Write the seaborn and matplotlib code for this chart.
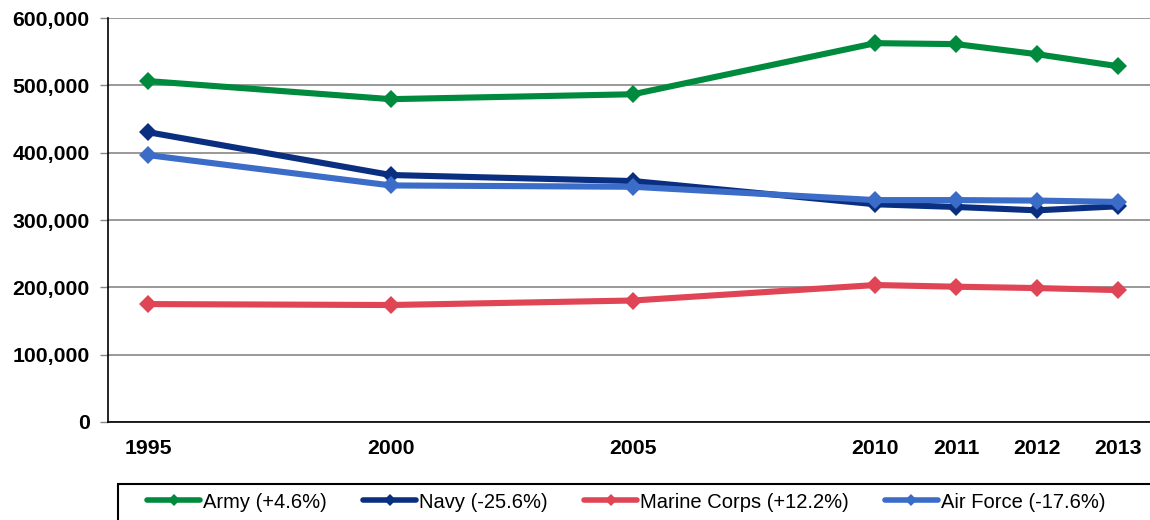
import numpy as np
import pandas as pd
import matplotlib.pyplot as plt
import matplotlib.patches as mpatches
import seaborn as sns

# Data
years = [1995, 2000, 2005, 2010, 2011, 2012, 2013]
army = [506500, 479700, 487000, 562900, 561500, 546500, 528700]
navy = [430500, 367000, 358000, 323500, 319500, 314500, 320500]
marine = [175200, 173800, 180500, 203500, 201000, 199000, 196000]
air_force = [396500, 351500, 349500, 329700, 329700, 329000, 327000]
labels = ['Army (+4.6%)', 'Navy (-25.6%)', 'Marine Corps (+12.2%)', 'Air Force (-17.6%)']
colors = ['#008A3E', '#0B2F80', '#E04555', '#3A6CC8']

df = pd.DataFrame({'year': years * 4,
                   'personnel': army + navy + marine + air_force,
                   'service': np.repeat(labels, len(years))})

sns.set_style('white')
plt.rcParams['font.family'] = ['Liberation Sans', 'DejaVu Sans']
plt.rcParams['text.color'] = 'black'
plt.rcParams['xtick.color'] = 'black'
plt.rcParams['ytick.color'] = 'black'


# the year axis is not linear: 5-year gaps before 2010, yearly steps after
def fwd(y):
    y = np.asarray(y, dtype=float)
    return np.where(y <= 2010, (y - 1995) * 0.6, 9 + (y - 2010))


def inv(u):
    u = np.asarray(u, dtype=float)
    return np.where(u <= 9, 1995 + u / 0.6, 2010 + (u - 9))


fig = plt.figure(figsize=(11.5, 5.2), dpi=100)
ax = fig.add_axes([0.094, 0.1885, 0.906, 0.7765])
ax.set_xscale('function', functions=(fwd, inv))

sns.lineplot(data=df, x='year', y='personnel', hue='service', style='service',
             palette=colors, markers=['D'] * 4, dashes=False, linewidth=4.4,
             markersize=9, markeredgewidth=0, ax=ax, legend=False)

ax.set_xlim(inv(-0.5), inv(12.4))
ax.set_ylim(0, 600000)
ax.set_yticks(range(0, 600001, 100000))
ax.set_yticklabels([f'{v:,}' for v in range(0, 600001, 100000)])
ax.set_xticks(years)
ax.set_xticklabels([str(y) for y in years])
ax.grid(axis='y', color='#888888', linewidth=1.2)
ax.set_axisbelow(True)
for s in ['top', 'right']:
    ax.spines[s].set_visible(False)
ax.spines['left'].set_color('black')
ax.spines['bottom'].set_color('black')
ax.spines['left'].set_linewidth(1.2)
ax.spines['bottom'].set_linewidth(1.2)
ax.tick_params(axis='y', left=True, length=5.8, width=1, color='#888888',
               labelcolor='black', labelsize=15.3, pad=7.5)
ax.tick_params(axis='x', bottom=False, labelcolor='black', labelsize=15.3, pad=9)
for t in ax.get_xticklabels() + ax.get_yticklabels():
    t.set_fontweight('bold')
ax.set_xlabel('')
ax.set_ylabel('')

# legend box: drawn as a frame that runs off the bottom/right edge
fig.patches.append(mpatches.Rectangle((0.1026, -0.2), 1.0, 0.2 + 0.069,
                                      transform=fig.transFigure, fill=False,
                                      edgecolor='black', linewidth=1.5))
handles = [plt.Line2D([], [], color=c, lw=4, marker='D', markersize=6.5,
                      markeredgewidth=0) for c in colors]
leg = fig.legend(handles, labels, loc='center left', bbox_to_anchor=(0.1278, 0.0346),
                 ncol=4, frameon=False, fontsize=14.5,
                 handlelength=2.65, handletextpad=0.15, columnspacing=1.78,
                 borderpad=0, borderaxespad=0)

fig.savefig('out.png', dpi=100)
